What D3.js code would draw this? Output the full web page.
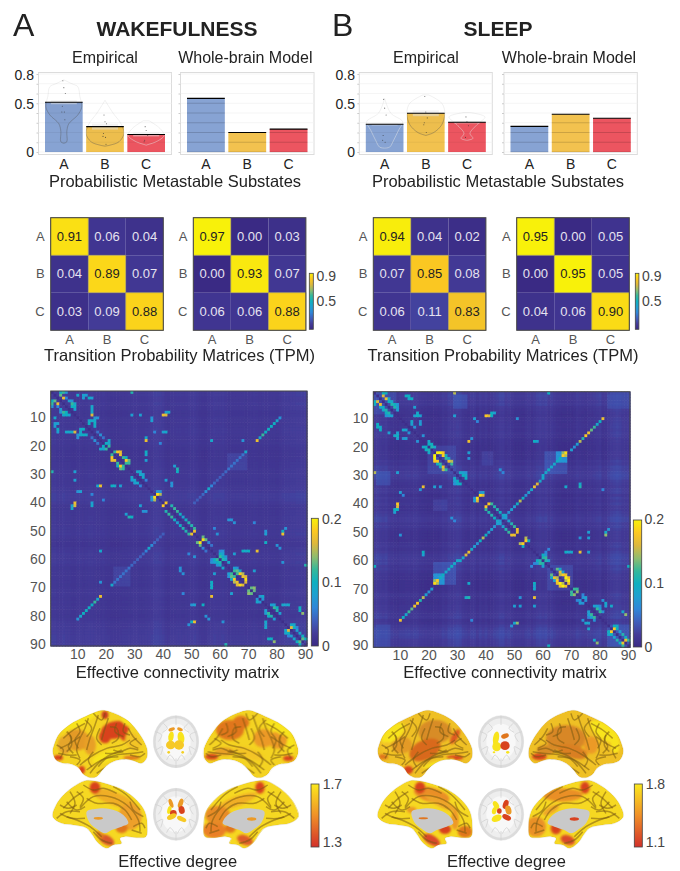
<!DOCTYPE html>
<html><head><meta charset="utf-8">
<script src="https://cdnjs.cloudflare.com/ajax/libs/d3/7.8.5/d3.min.js"></script>
<style>
html,body{margin:0;padding:0;background:#fff}
svg{display:block}
text{font-family:"Liberation Sans",Arial,sans-serif}
</style></head><body><svg id="c" width="680" height="871"></svg>
<script>
// ---------- DATA ----------
const states = ["A","B","C"];
const barTicks = [0,0.5,0.8];
const wakeEmpirical = [0.51,0.26,0.18];
const wakeModel = [0.55,0.20,0.235];
const sleepEmpirical = [0.284,0.397,0.305];
const sleepModel = [0.263,0.387,0.346];
const wakeSE = [0.02,0.03,0.02];
const sleepSE = [0.012,0.03,0.012];
const wakeDots = [[.73,.66,.6,.47,.41,.41,.33],[.38,.31,.29,.19,.16,.15,.08],[.26,.22,.17,.12,.105]];
const sleepDots = [[.54,.45,.38,.17,.12,.1],[.57,.41,.35,.3,.28,.2],[.36,.31,.27,.15]];
const wakeViolins = [
 [[.74,0],[.70,8],[.67,14],[.57,16],[.465,18],[.38,14],[.29,5],[.21,3],[.105,3],[.09,0]],
 [[.53,0],[.40,8],[.29,16],[.19,19],[.105,14],[.07,5],[.06,0]],
 [[.32,3],[.24,14],[.17,18],[.105,10],[.08,3],[.07,0]]];
const sleepViolins = [
 [[.55,0],[.40,6],[.31,18],[.225,14],[.12,9],[.05,5],[.04,0]],
 [[.585,3],[.5,16],[.4,19],[.28,16],[.2,8],[.17,0]],
 [[.405,3],[.36,18],[.28,10],[.19,3],[.14,6],[.12,0]]];
const wakeTPMemp = [[.91,.06,.04],[.04,.89,.07],[.03,.09,.88]];
const wakeTPMmod = [[.97,.00,.03],[.00,.93,.07],[.06,.06,.88]];
const sleepTPMemp = [[.94,.04,.02],[.07,.85,.08],[.06,.11,.83]];
const sleepTPMmod = [[.95,.00,.05],[.00,.95,.05],[.04,.06,.90]];
const matrixTicks = [10,20,30,40,50,60,70,80,90];

// per-region background level of the connectivity matrices (x 1/1000), read from row banding
const wakeTone = [12,12,10,10,12,10,10,8,8,10,10,9,10,11,11,10,9,9,10,8,7,6,6,6,7,8,8,9,9,10,10,9,9,10,11,12,15,15,14,12,8,7,9,9,10,10,9,10,11,11,12,10,7,6,6,9,10,12,11,11,12,10,7,8,8,8,8,8,7,8,9,10,9,8,9,8,9,8,8,7,9,11,12,12,13,13,14,14,14,14];
const sleepTone = [16,18,16,14,16,10,8,6,5,8,8,9,10,8,10,9,6,5,4,3,3,4,4,5,10,8,14,13,16,18,16,10,8,6,10,10,4,10,6,10,5,6,10,12,16,16,10,12,8,5,5,5,4,8,10,6,10,14,16,14,16,10,12,8,5,4,3,3,3,3,5,10,8,6,5,8,8,10,12,14,6,8,14,18,20,22,20,16,15,14];
// lighter blocks [firstRow,lastRow,firstCol,lastCol,value]
const wakeBlocks = [[23,28,63,69,.027]];
const sleepBlocks = [[22,29,61,68,.034],[22,25,65,68,.085],[20,29,22,29,.028],[62,69,62,70,.03],[1,5,84,90,.026],[29,33,2,6,.03],[39,42,22,26,.026],[83,90,84,90,.03],[2,6,83,90,.027],[1,8,1,8,.028]];
// connections [i,j,value], mirrored across the diagonal
const wakeEdges = [[3,5,.17],[2,4,.13],[1,4,.1],[1,5,.12],[1,6,.07],[3,6,.06],[4,7,.08],[5,8,.12],[6,8,.1],[4,8,.07],[5,9,.09],[6,9,.1],[7,9,.08],
[9,40,.17],[9,41,.16],[8,42,.09],[1,29,.11],[2,10,.09],[3,12,.08],[2,12,.08],[3,14,.1],[2,13,.08],[3,15,.08],[6,15,.09],[7,15,.09],[8,15,.09],[9,15,.16],[10,17,.07],[11,16,.09],[12,16,.1],[13,16,.09],[11,14,.09],[11,15,.09],[12,14,.1],[10,16,.07],
[18,34,.17],[17,34,.09],[22,34,.1],[23,34,.09],[25,34,.08],[15,40,.08],[15,41,.09],[11,36,.08],[9,29,.08],[9,32,.08],[10,36,.07],[18,57,.09],[19,39,.06],
[10,81,.07],[11,80,.09],[12,79,.1],[13,78,.1],[14,77,.1],[15,76,.1],[16,75,.12],[17,74,.09],[18,73,.17],[22,69,.09],[23,68,.05],[24,67,.05],[25,66,.05],[26,65,.05],[27,64,.05],[28,63,.05],[29,62,.045],[30,61,.04],[31,60,.04],[32,59,.04],[33,58,.045],[34,57,.06],[35,56,.09],[36,55,.065],[37,54,.045],[38,53,.04],[39,52,.04],[40,51,.04],
[16,18,.07],[15,17,.05],[17,19,.05],[19,20,.1],[20,21,.12],[19,21,.08],[18,21,.09],[22,23,.12],[22,24,.18],[22,25,.17],[23,25,.17],[24,26,.12],[25,27,.18],[26,27,.12],[26,28,.12],[24,27,.1],[25,28,.13],
[29,31,.09],[30,32,.09],[31,33,.09],[30,33,.08],[29,32,.08],[32,34,.06],[37,38,.19],[37,39,.15],[36,38,.07],[36,39,.07],
[40,41,.18],[41,43,.11],[42,44,.12],[43,45,.12],[44,46,.1],[45,47,.08],[46,48,.1],[47,49,.11],[48,50,.11],[50,51,.17],[49,51,.12],
[53,54,.19],[52,54,.13],[53,55,.13],[54,56,.06],[55,57,.05],[59,60,.12],[60,61,.11],[59,61,.1],[58,60,.1],[60,62,.09],[61,63,.09],[59,62,.07],[58,61,.08],[57,60,.06],[57,61,.07],
[63,65,.08],[64,65,.12],[64,66,.13],[65,66,.12],[65,67,.18],[66,68,.17],[67,69,.19],[68,69,.16],[65,68,.15],[66,69,.16],[64,67,.09],[63,66,.07],[70,71,.13],[71,72,.13],[70,72,.14],[73,74,.07],[73,75,.09],[74,75,.07],
[76,78,.08],[77,79,.12],[78,80,.11],[77,80,.1],[76,79,.08],[79,81,.08],[84,85,.16],[84,86,.1],[83,85,.09],[85,87,.08],[86,88,.09],[87,89,.1],[88,89,.13],[88,90,.1],[83,86,.09],[84,87,.06],
[51,82,.17],[50,82,.1],[49,83,.07],[57,73,.17],[57,68,.1],[57,69,.09],[46,63,.07],[46,64,.07],[47,65,.07],[47,72,.06],[49,58,.06],[51,59,.07],[57,70,.1],[58,65,.08],[51,76,.08],[50,76,.07],[54,76,.1],[76,82,.09],[76,83,.08],[76,84,.09],[77,88,.1],[78,88,.1],[79,89,.14],[32,41,.08],[34,43,.07],[28,45,.11],[29,45,.1],[27,44,.08],[33,43,.07],[15,37,.06],[18,68,.07],[64,72,.08],[55,80,.07],[56,81,.07],[61,82,.07],[62,90,.11],[8,41,.08]];
const sleepEdges = [[3,5,.17],[2,4,.16],[1,4,.1],[1,5,.1],[4,6,.1],[4,7,.09],[5,7,.11],[6,8,.11],[5,8,.1],[3,6,.09],[7,9,.08],[6,9,.08],[5,9,.07],
[2,12,.1],[3,13,.09],[3,14,.1],[6,15,.08],[9,15,.08],[9,17,.08],[11,17,.07],[12,17,.08],[11,14,.09],[12,14,.08],[13,15,.07],[9,16,.1],[8,16,.09],[16,18,.07],[2,13,.1],[9,40,.18],[9,41,.16],[9,42,.1],[8,43,.08],[10,51,.07],[9,29,.08],[10,36,.08],[11,37,.06],[1,29,.15],[18,34,.17],[17,35,.07],[18,57,.1],[18,58,.08],
[19,20,.1],[20,21,.11],[19,21,.1],[18,20,.09],[20,22,.09],[22,24,.2],[22,25,.18],[23,25,.18],[23,24,.03],[24,26,.12],[25,27,.17],[26,28,.12],[25,28,.15],[24,27,.09],[23,26,.1],[22,23,.2],
[30,32,.1],[29,31,.09],[31,33,.1],[30,33,.09],[29,32,.08],[29,33,.07],[22,34,.08],[24,34,.07],[36,38,.07],[37,38,.19],[37,39,.16],[36,39,.08],
[40,41,.18],[40,42,.12],[41,43,.11],[42,44,.11],[43,45,.1],[44,46,.09],[45,47,.08],[46,48,.08],[47,49,.11],[48,50,.12],[49,51,.17],[50,51,.17],
[42,49,.08],[43,48,.07],[44,47,.08],[45,46,.07],[41,50,.08],[40,51,.1],[39,52,.15],[38,53,.1],[37,54,.07],[36,55,.08],[35,56,.09],[34,57,.17],[33,58,.16],[32,59,.09],[31,60,.09],[30,60,.09],[29,61,.09],[28,62,.1],[27,63,.09],[26,64,.09],[25,65,.1],[24,66,.1],[23,67,.18],[22,67,.14],[23,68,.15],[22,68,.19],[21,70,.08],[20,71,.07],[19,72,.08],[18,73,.15],[17,74,.11],[16,75,.18],[15,76,.17],[14,77,.13],[13,78,.12],[12,79,.09],[11,80,.1],[10,81,.17],
[53,54,.18],[52,54,.15],[53,55,.1],[58,60,.1],[59,60,.11],[60,61,.11],[59,61,.12],[60,62,.08],[58,61,.07],[57,61,.06],[56,62,.06],
[63,65,.13],[64,66,.17],[65,66,.15],[65,67,.18],[66,68,.2],[67,68,.15],[67,69,.2],[68,69,.17],[65,68,.17],[66,69,.17],[63,66,.09],[64,67,.08],[70,71,.12],[71,72,.14],[70,72,.12],[73,74,.07],[74,75,.07],[73,75,.08],[72,74,.06],
[77,79,.12],[78,80,.12],[76,79,.08],[77,80,.08],[76,78,.08],[78,81,.07],[76,80,.06],[84,85,.18],[83,85,.1],[84,86,.1],[85,87,.08],[86,88,.11],[87,89,.1],[88,89,.17],[88,90,.12],[83,86,.09],
[51,82,.14],[50,82,.09],[49,83,.07],[57,73,.17],[57,68,.1],[57,69,.08],[34,73,.11],[33,73,.09],[78,88,.09],[79,89,.14],[76,82,.08],[76,84,.09],[74,81,.07],[75,82,.09],[50,76,.08],[52,76,.08],[57,76,.08],[35,81,.06],[52,73,.07],[34,68,.09],[1,62,.1],[62,90,.1],[29,46,.06],[28,45,.07],[8,42,.1],[57,70,.09]];

// ---------- SCALES ----------
const svg = d3.select("#c");
const defs = svg.append("defs");
const parulaScale = d3.scaleLinear()
  .domain([0,.1,.2,.3,.4,.5,.6,.7,.8,.9,1])
  .range(["#3a2a84","#443c98","#3f5fbc","#2f86d8","#1ea0d0","#0fb0c0","#35b89a","#90bc6e","#dcb73d","#fcc821","#f8f10a"]).clamp(true);
const parula = t => parulaScale(t);
const degreeCol = t => d3.scaleLinear().domain([0,.5,1]).range(["#d2302a","#f09028","#fbe91e"])(t);
const txt = "#222", axc = "#555";

function label(x,y,s,size,opt={}){
  return svg.append("text").attr("x",x).attr("y",y).attr("text-anchor",opt.anchor||"middle")
   .attr("font-size",size).attr("fill",opt.fill||txt).attr("font-weight",opt.weight||"normal")
   .attr("font-family",opt.family||null).text(s);
}

// ---------- BAR PANELS ----------
const yBar = d3.scaleLinear().domain([0,.8]).range([152,74]);
const barCols = ["#87a3d3","#f2c24f","#ec5560"];
let gid=0;
function barPanel(x0,x1,vals,opt){
  const g = svg.append("g");
  const xs = d3.scaleBand().domain(states).range([x0+6.5,x1-6.5]).paddingInner(.085);
  g.append("rect").attr("x",x0).attr("y",72.5).attr("width",x1-x0).attr("height",82).attr("fill","#fff").attr("stroke","#dcdcdc").attr("stroke-width",1);
  const gridVals = d3.range(0,.81,.1);
  g.selectAll(".gr").data(gridVals).join("line").attr("x1",x0).attr("x2",x1).attr("y1",d=>yBar(d)).attr("y2",d=>yBar(d)).attr("stroke","#f3f3f3").attr("stroke-width",.8);
  const ax = d3.axisLeft(yBar).tickValues(gridVals).tickSize(2).tickFormat("");
  const ag = g.append("g").attr("transform",`translate(${x0},0)`).call(ax);
  ag.select(".domain").remove(); ag.selectAll("line").attr("stroke","#ccc");
  g.selectAll(".bar").data(vals).join("rect")
    .attr("x",(d,i)=>xs(states[i])).attr("width",xs.bandwidth())
    .attr("y",d=>yBar(d)).attr("height",d=>yBar(0)-yBar(d)).attr("fill",(d,i)=>barCols[i]);
  states.forEach((s,i)=>{
    g.selectAll(null).data(gridVals.filter(v=>v<=vals[i])).join("line")
      .attr("x1",xs(s)).attr("x2",xs(s)+xs.bandwidth()).attr("y1",d=>yBar(d)).attr("y2",d=>yBar(d))
      .attr("stroke","#000").attr("stroke-opacity",opt.violins?.05:.16).attr("stroke-width",1);
  });
  if(opt.violins){
    states.forEach((s,i)=>{
      const cx = xs(s)+xs.bandwidth()/2;
      g.append("rect").attr("x",cx-13).attr("width",26).attr("y",yBar(vals[i]+opt.se[i])).attr("height",yBar(vals[i]-opt.se[i])-yBar(vals[i]+opt.se[i])).attr("fill","#e8e8e8").attr("fill-opacity",.5);
      const a = d3.area().y(d=>yBar(d[0])).x0(d=>cx-d[1]).x1(d=>cx+d[1]).curve(d3.curveCatmullRom);
      g.append("path").attr("d",a(opt.violins[i])).attr("fill","none").attr("stroke","#999").attr("stroke-opacity",.2).attr("stroke-width",.7);
      const inner = opt.inner[i];
      const id = "vc"+(gid++);
      defs.append("clipPath").attr("id",id).append("rect").attr("x",xs(s)).attr("width",xs.bandwidth()).attr("y",yBar(vals[i])).attr("height",yBar(0)-yBar(vals[i]));
      g.append("path").attr("clip-path",`url(#${id})`).attr("d",a(opt.violins[i])).attr("fill",inner==="dark"?"#000":"none").attr("fill-opacity",.02).attr("stroke",inner==="dark"?"#3a3a3a":"#fff").attr("stroke-opacity",inner==="dark"?.3:.4).attr("stroke-width",.9);
      const jitter = [-1,0,1.5,-1.5,-2,.5,1,-.5];
      g.selectAll(null).data(opt.dots[i]).join("circle").attr("cx",(d,k)=>cx+jitter[k%8]).attr("cy",d=>yBar(d)).attr("r",.55).attr("fill","#333").attr("fill-opacity",.7);
    });
  }
  g.selectAll(".m").data(vals).join("line")
    .attr("x1",(d,i)=>xs(states[i])).attr("x2",(d,i)=>xs(states[i])+xs.bandwidth())
    .attr("y1",d=>yBar(d)).attr("y2",d=>yBar(d)).attr("stroke","#000").attr("stroke-width",1.1);
  const bx = d3.axisBottom(xs).tickSize(0).tickPadding(0);
  const bg = g.append("g").attr("transform","translate(0,169)").call(bx);
  bg.select(".domain").remove();
  bg.selectAll("text").attr("font-size",14).attr("fill",txt).attr("font-family","Liberation Sans").attr("dy",0).attr("y",0);
  if(opt.labelX!==undefined){
    const ly = d3.axisLeft(yBar).tickValues(barTicks).tickSize(0).tickPadding(0).tickFormat(d=>d===0?"0":d3.format(".1f")(d));
    const lg = svg.append("g").attr("transform",`translate(${opt.labelX},0)`).call(ly);
    lg.select(".domain").remove();
    lg.selectAll("text").attr("font-size",14).attr("fill",txt).attr("font-family","Liberation Sans")
      .attr("dy",".36em").attr("transform",d=>d===0?"translate(0,-1)":d===.5?"translate(0,.5)":"");
  }
}
barPanel(38.5,171.5,wakeEmpirical,{violins:wakeViolins,dots:wakeDots,se:wakeSE,labelX:34,inner:["dark","dark","light"]});
barPanel(180.5,314,wakeModel,{});
barPanel(359.3,492.3,sleepEmpirical,{violins:sleepViolins,dots:sleepDots,se:sleepSE,labelX:355,inner:["light","dark","light"]});
barPanel(504,637.3,sleepModel,{});

// ---------- TPM ----------
function tpm(x0,vals){
  const size = 112.6, y0 = 217.7;
  const x = d3.scaleBand().domain(states).range([x0,x0+size]);
  const y = d3.scaleBand().domain(states).range([y0,y0+size]);
  const col = v => parula(v/.95);
  const g = svg.append("g");
  const cells = vals.flatMap((r,i)=>r.map((v,j)=>({i,j,v}))).sort((a,b)=>a.v-b.v);
  g.selectAll("rect").data(cells).join("rect").attr("x",d=>x(states[d.j])).attr("y",d=>y(states[d.i])).attr("width",x.bandwidth()).attr("height",y.bandwidth()).attr("fill",d=>col(d.v)).attr("stroke",d=>d.v>.5?"#9a8f60":"none").attr("stroke-width",.7);
  g.selectAll("text").data(cells).join("text").attr("x",d=>x(states[d.j])+x.bandwidth()/2).attr("y",d=>y(states[d.i])+y.bandwidth()/2-.5).attr("dy",".36em").attr("text-anchor","middle").attr("font-size",13).attr("fill",d=>d.v>.5?"#222":"#e6e3f0").text(d=>d.v.toFixed(2));
  g.append("rect").attr("x",x0).attr("y",y0).attr("width",size).attr("height",size).attr("fill","none").attr("stroke","#444").attr("stroke-width",1);
  const l = g.append("g").attr("transform",`translate(${x0-6},0)`).call(d3.axisLeft(y).tickSize(0).tickPadding(0));
  l.select(".domain").remove(); l.selectAll("text").attr("font-size",13).attr("fill",axc).attr("font-family","Liberation Sans");
  const b = g.append("g").attr("transform",`translate(0,${y0+size+2})`).call(d3.axisBottom(x).tickSize(0).tickPadding(2));
  b.select(".domain").remove(); b.selectAll("text").attr("font-size",13).attr("fill",axc).attr("font-family","Liberation Sans");
}
tpm(50.7,wakeTPMemp); tpm(193.3,wakeTPMmod); tpm(373.3,sleepTPMemp); tpm(516.7,sleepTPMmod);

// ---------- COLOURBARS ----------
function colorbar(x,y,w,h,fn,ticks,size,lx){
  const id="cb"+(gid++);
  const gr=defs.append("linearGradient").attr("id",id).attr("x1",0).attr("x2",0).attr("y1",1).attr("y2",0);
  d3.range(0,1.001,.05).forEach(t=>gr.append("stop").attr("offset",t).attr("stop-color",fn(t)));
  svg.append("rect").attr("x",x).attr("y",y).attr("width",w).attr("height",h).attr("fill",`url(#${id})`).attr("stroke","#444").attr("stroke-width",.8);
  ticks.forEach(t=>label(lx,t[1],t[0],size,{anchor:"start",fill:"#444"}).attr("dy",".36em"));
}
colorbar(309.3,273.3,4,56,parula,[["0.9",276],["0.5",300.7]],14,316.5);
colorbar(635.3,273.3,3.6,56,parula,[["0.9",276],["0.5",300.7]],14,642);
colorbar(311.3,518.3,7,127.7,parula,[["0.2",518.5],["0.1",582],["0",646]],14,322);
colorbar(633.3,520,8.4,127,parula,[["0.2",519],["0.1",582.5],["0",647]],14,644.5);
colorbar(311,784,8,63,degreeCol,[["1.7",784],["1.3",842]],14,322.7);
colorbar(634.3,784,8,63,degreeCol,[["1.8",784],["1.1",842]],14,645.7);

// ---------- CONNECTIVITY MATRICES ----------
defs.append("filter").attr("id","soft").attr("x","0").attr("y","0").attr("width","100%").attr("height","100%").append("feGaussianBlur").attr("stdDeviation",.35);
function matrix(x0,x1,y0,y1,tone,toneGain,blocks,edges){
  const idx = d3.range(1,91);
  const x = d3.scaleBand().domain(idx).range([x0,x1]);
  const y = d3.scaleBand().domain(idx).range([y0,y1]);
  const col = v => parula(v/.2);
  const m = idx.map(i=>idx.map(j=>toneGain*(tone[i-1]+tone[j-1])/1000));
  blocks.forEach(([a,b,c,d,v])=>{
    for(let i=a;i<=b;i++)for(let j=c;j<=d;j++){
      const t=Math.max(m[i-1][j-1],v*(.7+.3*(tone[i-1]+tone[j-1])/24)); m[i-1][j-1]=t; m[j-1][i-1]=t;
    }
  });
  edges.forEach(([i,j,v])=>{m[i-1][j-1]=v;m[j-1][i-1]=v;});
  idx.forEach(i=>{m[i-1][i-1]=.006;});
  const g=svg.append("g");
  const cells=[]; idx.forEach(i=>idx.forEach(j=>cells.push({i,j,v:m[i-1][j-1]})));
  g.append("g").attr("filter","url(#soft)").selectAll("rect").data(cells).join("rect").attr("x",d=>x(d.j)).attr("y",d=>y(d.i)).attr("width",x.bandwidth()+.6).attr("height",y.bandwidth()+.6).attr("fill",d=>col(d.v));
  g.append("rect").attr("x",x0).attr("y",y0).attr("width",x1-x0).attr("height",y1-y0).attr("fill","none").attr("stroke","#444").attr("stroke-width",1);
  const l=g.append("g").attr("transform",`translate(${x0-5},0)`).call(d3.axisLeft(y).tickValues(matrixTicks).tickSize(0).tickPadding(0));
  l.select(".domain").remove(); l.selectAll("text").attr("font-size",14).attr("fill",axc).attr("font-family","Liberation Sans");
  const b=g.append("g").attr("transform",`translate(0,${y1+3})`).call(d3.axisBottom(x).tickValues(matrixTicks).tickSize(0).tickPadding(0));
  b.select(".domain").remove(); b.selectAll("text").attr("font-size",14).attr("fill",axc).attr("font-family","Liberation Sans");
}
matrix(50.7,307,391,646,wakeTone,.85,wakeBlocks,wakeEdges);
matrix(373.3,630,391.7,647.3,sleepTone,.8,sleepBlocks,sleepEdges);

// ---------- BRAIN SURFACES (illustrative outlines) ----------
const Y="#f8e41e",YO="#f3c428",O="#ec9a26",DO="#e0761f",R="#d8421f";
const lateralOutline=[[68,170],[72,150],[85,120],[105,100],[130,82],[165,65],[195,52],[215,46],[240,50],[265,60],[295,78],[320,105],[340,135],[352,165],[350,190],[335,205],[310,197],[290,193],[265,195],[240,205],[220,222],[200,245],[180,248],[160,238],[147,220],[125,208],[100,205],[78,195]];
const medialOutline=[[68,365],[78,330],[100,300],[130,275],[165,257],[195,258],[235,268],[280,285],[320,315],[345,350],[352,390],[348,425],[320,428],[285,425],[270,430],[275,445],[250,450],[230,460],[205,445],[170,400],[130,390],[95,385]];
const medialHole=[[170,350],[195,342],[240,342],[280,360],[295,385],[275,395],[245,405],[225,415],[205,405],[180,385]];
const lateralSulci=[[[150,210],[190,180],[230,160],[275,150],[300,135]],[[170,225],[215,195],[260,180],[310,175],[340,170]],[[205,60],[195,90],[180,130],[170,165]],[[175,70],[165,100],[150,130],[140,165],[150,190]],[[235,70],[225,100],[215,135]],[[100,130],[130,105],[165,85]],[[90,160],[120,145],[150,125]],[[85,175],[110,180],[140,180]],[[260,85],[255,110],[280,125]],[[295,100],[310,125],[335,150]],[[200,235],[240,210],[285,195]],[[120,120],[125,150],[110,170]],[[190,170],[175,195],[185,215]],[[250,165],[270,170],[300,160],[325,165]],
[[110,110],[125,130],[115,155],[130,175]],[[140,85],[150,110],[135,135],[145,160]],[[165,75],[185,100],[170,125]],[[210,100],[200,130],[215,150]],[[240,95],[260,100],[265,130],[245,145]],[[285,85],[280,110],[300,120]],[[320,130],[300,145],[325,160]],[[80,150],[100,165],[90,190]],[[120,185],[150,195],[140,210]],[[205,215],[230,190],[265,185]],[[180,235],[205,205],[240,180],[280,170]],[[300,180],[330,185],[345,175]],[[225,175],[250,175],[275,165]],[[190,55],[215,75],[225,55]]];
const medialSulci=[[[150,340],[190,305],[240,305],[290,330],[325,375],[330,410]],[[100,340],[130,310],[160,290]],[[80,370],[110,350],[150,350]],[[215,425],[180,395],[140,375],[110,365]],[[250,275],[290,300],[330,345]],[[120,290],[135,325],[120,355]],[[90,330],[115,340],[140,330]],[[190,410],[215,435],[245,445]],
[[160,270],[190,285],[220,280],[260,295]],[[170,310],[200,325],[250,325],[285,345],[305,375]],[[110,320],[140,345],[165,335]],[[90,355],[125,370],[165,370]],[[300,320],[310,345],[340,365]],[[310,395],[335,385],[345,400]],[[305,405],[335,415]],[[140,290],[160,310],[150,335]]];
const wakeLatL=[[140,135,38,32,0,"#e49a25"],[105,150,22,28,0,"#e5a52a"],[180,150,18,30,0,"#e8a028"],[150,80,60,11,-28,Y],[255,105,42,26,-10,R],[225,125,18,20,0,R],[285,125,14,12,0,R],[225,60,10,12,0,"#c93a20"],[85,188,14,8,0,R],[155,225,10,12,0,R],[305,188,25,6,0,DO],[230,185,45,16,-20,Y],[310,140,22,30,-30,YO],[290,82,18,8,35,Y]];
const wakeLatR=[[273,105,42,30,0,DO],[240,82,25,20,0,DO],[173,130,30,28,0,O],[130,135,28,26,0,O],[328,185,20,9,0,R],[98,190,16,8,0,R],[125,100,45,14,-30,Y],[90,150,12,25,0,Y],[215,175,45,15,-20,YO],[290,170,30,12,0,"#e8a028"]];
const wakeMedL=[[250,310,70,20,20,"#f0ae28"],[300,365,35,40,0,"#eea02a"],[195,278,16,18,0,R],[275,400,18,15,0,DO],[230,435,25,14,30,"#d9542a"],[210,420,14,8,45,DO]];
const wakeMedR=[[250,318,60,15,20,"#f0ae28"],[183,278,14,18,0,R],[320,405,35,25,0,"#ea7f28"],[310,360,38,28,0,"#e88b28"],[228,435,25,14,-20,"#dc5a2a"],[272,400,16,14,0,DO]];
const sleepLatL=[[140,150,32,25,0,"#e39a25"],[240,110,50,35,0,"#d88c25"],[210,165,50,30,-25,"#d9691f"],[300,125,10,25,30,"#dd5a20"],[300,188,25,7,0,R],[160,225,14,12,0,R],[85,185,14,8,0,DO],[250,205,50,7,-15,Y],[115,115,42,20,-40,Y],[95,160,16,20,0,YO]];
const sleepLatR=[[240,130,60,40,0,"#d88725"],[220,170,45,20,-15,"#da7f20"],[320,185,22,10,0,R],[125,110,50,22,-35,Y],[92,150,14,25,0,Y],[165,205,20,10,0,YO],[165,150,22,26,0,O],[300,165,28,15,0,"#d88c25"]];
const sleepMedL=[[230,300,55,22,15,"#ea8f28"],[195,278,16,18,0,R],[170,345,15,10,0,O],[260,325,55,11,25,"#eea52a"],[300,375,12,30,0,"#ee9a28"],[270,403,18,14,0,R],[330,410,22,18,0,DO],[230,435,28,14,30,"#d9482a"]];
const sleepMedR=[[250,300,60,20,0,"#ea8f28"],[183,278,14,18,0,R],[330,395,30,30,0,"#ea9028"],[270,400,16,18,0,R],[235,435,22,14,-20,"#d9482a"],[285,345,28,10,30,"#eea52a"]];
const wakeAxT=[[423,125,8,16,10,Y],[453,128,10,18,-10,Y],[425,103,10,5,-20,O],[450,103,9,5,20,O],[422,150,14,13,0,"#f6c928"],[447,150,15,14,0,"#f6c928"],[416,172,4,4,0,"#f4d020"],[458,172,4,4,0,"#f4d020"]];
const wakeAxB=[[423,325,6,14,-20,O],[452,325,7,15,20,O],[418,345,6,12,15,Y],[430,355,10,10,0,R],[455,345,9,12,-15,R],[425,365,15,8,-25,"#f6c928"],[455,372,15,7,25,"#f6c928"]];
const sleepAxT=[[423,130,9,21,10,Y],[450,123,12,7,-20,DO],[425,155,13,14,0,Y],[450,152,14,13,0,R],[458,172,5,4,0,Y],[417,172,4,3,0,Y]];
const sleepAxB=[[423,330,8,13,-30,Y],[452,328,8,14,20,R],[418,347,7,11,15,Y],[433,348,7,8,0,R],[460,345,9,14,-15,O],[425,370,16,10,-25,Y],[455,367,14,8,25,R]];
const axialFolds=[[[375,110],[395,120],[385,140]],[[378,165],[398,155],[392,180]],[[400,85],[412,100],[398,112]],[[410,195],[420,180],[435,198]],[[500,110],[480,120],[490,140]],[[497,165],[478,155],[484,180]],[[475,85],[462,100],[477,112]],[[465,195],[455,180],[442,198]]];

const blurA=defs.append("filter").attr("id","bl").attr("x","-30%").attr("y","-30%").attr("width","160%").attr("height","160%"); blurA.append("feGaussianBlur").attr("stdDeviation",3.2);
defs.append("filter").attr("id","bl2").append("feGaussianBlur").attr("stdDeviation",1);
const closed=d3.line().curve(d3.curveCatmullRomClosed);
const open=d3.line().curve(d3.curveCatmullRom);
function patches(g,list){
  g.selectAll(null).data(list).join("ellipse").attr("rx",d=>d[2]).attr("ry",d=>d[3])
   .attr("transform",d=>`translate(${d[0]},${d[1]}) rotate(${d[4]})`).attr("fill",d=>d[5]);
}
function surface(g,outline,base,list,sulci,hole,holeSpots){
  const id="cl"+(gid++);
  defs.append("clipPath").attr("id",id).append("path").attr("d",closed(outline));
  const c=g.append("g").attr("clip-path",`url(#${id})`);
  c.append("path").attr("d",closed(outline)).attr("fill",base);
  patches(c.append("g").attr("filter","url(#bl)"),list);
  c.append("g").attr("filter","url(#bl2)").selectAll("path").data(sulci).join("path").attr("d",open).attr("fill","none").attr("stroke","#7a5a10").attr("stroke-opacity",.55).attr("stroke-width",4.5);
  if(hole){
    c.append("path").attr("d",closed(hole)).attr("fill","#c9c9c9");
    patches(c,holeSpots);
  }
  g.append("path").attr("d",closed(outline)).attr("fill","none").attr("stroke","#8a7020").attr("stroke-opacity",.3).attr("stroke-width",1.5);
}
function axial(g,cy,list){
  const dy=cy-140;
  g.append("ellipse").attr("cx",438).attr("cy",cy).attr("rx",68).attr("ry",78).attr("fill","#dcdcdc").attr("stroke","#d0d0d0").attr("stroke-width",1);
  g.append("ellipse").attr("cx",438).attr("cy",cy).attr("rx",61).attr("ry",70).attr("fill","#eeeeee");
  g.append("ellipse").attr("cx",438).attr("cy",cy).attr("rx",44).attr("ry",54).attr("fill","#f8f8f8");
  g.append("g").attr("transform",`translate(0,${dy})`).selectAll("path").data(axialFolds).join("path").attr("d",open).attr("fill","none").attr("stroke","#d2d2d2").attr("stroke-width",2.5);
  g.append("line").attr("x1",438).attr("x2",438).attr("y1",cy-78).attr("y2",cy-50).attr("stroke","#cfcfcf").attr("stroke-width",2);
  g.append("line").attr("x1",438).attr("x2",438).attr("y1",cy+50).attr("y2",cy+78).attr("stroke","#cfcfcf").attr("stroke-width",2);
  patches(g.append("g").attr("filter","url(#bl2)"),list);
}
function brains(ox,latL,latR,medL,medR,axT,axB,holeL,holeR,latBase){
  const g=svg.append("g").attr("transform",`translate(${ox},695) scale(${1/3})`);
  surface(g.append("g"),lateralOutline,latBase,latL,lateralSulci);
  surface(g.append("g").attr("transform","translate(873,0) scale(-1,1)"),lateralOutline,latBase,latR,lateralSulci);
  surface(g.append("g"),medialOutline,"#f6d822",medL,medialSulci,medialHole,holeL);
  surface(g.append("g").attr("transform","translate(873,0) scale(-1,1)"),medialOutline,"#f6d822",medR,medialSulci,medialHole,holeR);
  axial(g,140,axT); axial(g,358,axB);
}
brains(30,wakeLatL,wakeLatR,wakeMedL,wakeMedR,wakeAxT,wakeAxB,[[205,370,14,4,0,O]],[[208,372,14,5,0,O]],"#f4d322");
brains(355,sleepLatL,sleepLatR,sleepMedL,sleepMedR,sleepAxT,sleepAxB,[[205,370,14,3,0,DO]],[[215,372,14,5,0,R]],"#efc025");

// ---------- TITLES ----------
label(13,36,"A",32,{anchor:"start",family:"Roboto",weight:300});
label(332,36,"B",32,{anchor:"start",family:"Roboto",weight:300});
label(177,36,"WAKEFULNESS",21,{weight:"bold"});
label(498,36,"SLEEP",21,{weight:"bold"});
[[105,"Empirical"],[245.3,"Whole-brain Model"],[426,"Empirical"],[569,"Whole-brain Model"]].forEach(d=>label(d[0],63,d[1],16));
label(175,187,"Probabilistic Metastable Substates",16.5);
label(498,187,"Probabilistic Metastable Substates",16.5);
label(179.5,361,"Transition Probability Matrices (TPM)",16.5);
label(503,361,"Transition Probability Matrices (TPM)",16.5);
label(177.5,678,"Effective connectivity matrix",16.5);
label(505,678,"Effective connectivity matrix",16.5);
label(177.7,867,"Effective degree",16.5);
label(506.5,867,"Effective degree",16.5);
</script></body></html>
